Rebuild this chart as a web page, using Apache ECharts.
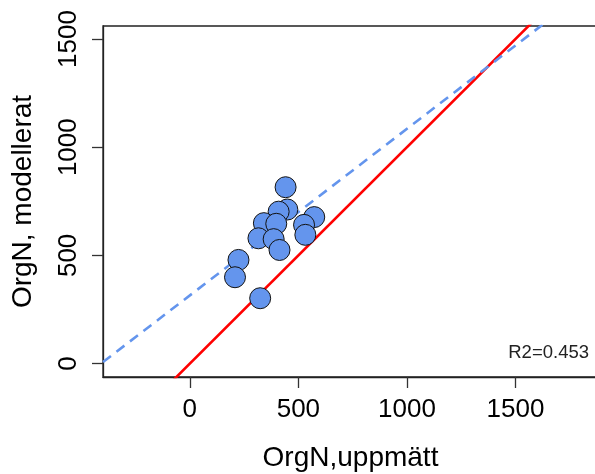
<!DOCTYPE html>
<html>
<head>
  <meta charset="utf-8">
  <script src="https://cdn.jsdelivr.net/npm/echarts@6/dist/echarts.min.js"></script>
  <style>
    html, body { margin: 0; padding: 0; background: #fff; }
    #chart { width: 595px; height: 474px; }
  </style>
</head>
<body>
  <div id="chart"></div>
  <script>
    // measured vs modelled OrgN
    const measured = [441, 449, 409, 341, 398, 573, 526, 532, 316, 386, 413, 224, 208, 324];
    const modelled = [815, 712, 702, 649, 646, 677, 641, 595, 579, 575, 525, 479, 399, 302];
    const tickValues = [0, 500, 1000, 1500];
    // 1:1 line and the fitted line (end points)
    const oneToOne = [[-400, -400], [1900, 1900]];
    const fitLine = [[-400, 7], [1900, 1778]];
    const r2Text = 'R2=0.453';

    const points = measured.map((x, i) => [x, modelled[i]]);

    let myChart = echarts.init(document.getElementById('chart'));
    let axisText = { fontFamily: 'Liberation Sans, Arial', color: '#000' };
    let plain = v => String(v);
    let option = {
      animation: false,
      grid: {
        left: 103, top: 26, right: -3, bottom: 97, outerBoundsMode: 'none',
        show: true, borderColor: '#222', borderWidth: 1.3
      },
      xAxis: {
        type: 'value', min: -400, max: 1880,
        name: 'OrgN,uppmätt', nameLocation: 'middle', nameGap: 67,
        nameTextStyle: Object.assign({ fontSize: 28 }, axisText),
        splitLine: { show: false },
        axisLine: { show: true, onZero: false, lineStyle: { color: '#222', width: 1.3 } },
        axisTick: { show: true, length: 11, customValues: tickValues, lineStyle: { color: '#333', width: 1.3 } },
        axisLabel: Object.assign({ fontSize: 26, margin: 20, customValues: tickValues, formatter: plain }, axisText)
      },
      yAxis: {
        type: 'value', min: -62, max: 1560,
        name: 'OrgN, modellerat', nameLocation: 'middle', nameGap: 66,
        nameTextStyle: Object.assign({ fontSize: 28 }, axisText),
        splitLine: { show: false },
        axisLine: { show: true, onZero: false, lineStyle: { color: '#222', width: 1.3 } },
        axisTick: { show: true, length: 11, customValues: tickValues, lineStyle: { color: '#333', width: 1.3 } },
        axisLabel: Object.assign({ fontSize: 26, margin: 21, rotate: 90, customValues: tickValues, formatter: plain }, axisText)
      },
      graphic: [{
        type: 'text', right: 6, top: 343,
        style: { text: r2Text, fontSize: 18.5, fontFamily: 'Liberation Sans, Arial', fill: '#222' }
      }],
      series: [
        {
          type: 'line', data: oneToOne, symbol: 'none', clip: true, z: 3,
          lineStyle: { color: '#ff0000', width: 2.6 }
        },
        {
          type: 'line', data: fitLine, symbol: 'none', clip: true, z: 3,
          lineStyle: { color: '#6495ED', width: 2.6, type: [10, 7] }
        },
        {
          type: 'scatter', data: points, symbolSize: 21, z: 4,
          itemStyle: { color: '#6495ED', borderColor: '#111', borderWidth: 1, opacity: 1 }
        }
      ]
    };
    myChart.setOption(option);
  </script>
</body>
</html>
